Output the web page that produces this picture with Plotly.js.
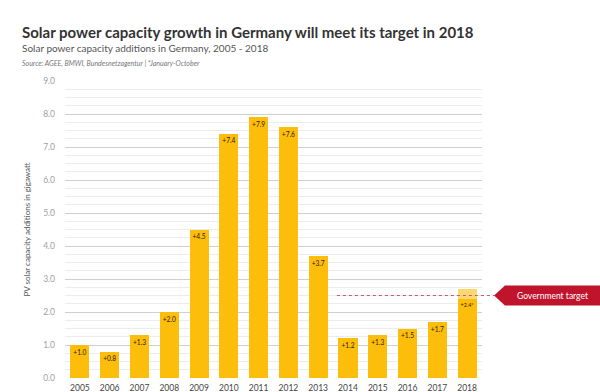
<!DOCTYPE html>
<html>
<head>
<meta charset="utf-8">
<script src="https://cdn.plot.ly/plotly-3.0.1.min.js"></script>
<style>html,body{margin:0;padding:0;background:#fff;}#chart{width:600px;height:392px;}</style>
</head>
<body>
<div id="chart"></div>
<script>
const years = ['2005','2006','2007','2008','2009','2010','2011','2012','2013','2014','2015','2016','2017','2018'];
const additions = [1.0, 0.8, 1.3, 2.0, 4.5, 7.4, 7.9, 7.6, 3.7, 1.2, 1.3, 1.5, 1.7, 2.4];
const labels = ['+1.0','+0.8','+1.3','+2.0','+4.5','+7.4','+7.9','+7.6','+3.7','+1.2','+1.3','+1.5','+1.7','+2.4*'];
const projectedYear = ['2018'];
const projectedExtra = [0.3];
const targetValue = 2.5;
const targetLabel = 'Government target';
const yTicks = [0,1,2,3,4,5,6,7,8,9];
const yTickText = ['0.0','1.0','2.0','3.0','4.0','5.0','6.0','7.0','8.0','9.0'];

const traces = [
  {
    type: 'bar', x: years, y: additions, text: labels,
    textposition: 'inside', insidetextanchor: 'end', textangle: 0,
    textfont: {size: 7, color: '#2e2200', family: 'Lato, sans-serif'},
    marker: {color: '#fcbd0b'}, width: 0.64, hoverinfo: 'skip'
  },
  {
    type: 'bar', x: projectedYear, y: projectedExtra,
    marker: {color: '#fdd870'}, width: 0.64, hoverinfo: 'skip'
  }
];

const layout = {
  width: 600, height: 392,
  margin: {l: 65, r: 118, t: 81, b: 14},
  paper_bgcolor: '#fff', plot_bgcolor: '#fff',
  showlegend: false, barmode: 'stack',
  font: {family: 'Lato, sans-serif', color: '#555'},
  xaxis: {
    type: 'category', range: [-0.5, 13.5], showgrid: false, zeroline: false,
    showline: false, ticks: '', tickfont: {size: 8.5, color: '#444'},
    ticklabelstandoff: 3, fixedrange: true, automargin: false
  },
  yaxis: {
    range: [0, 9], tickvals: yTicks, ticktext: yTickText,
    showgrid: true, gridcolor: '#cfcfcf', gridwidth: 1, zeroline: false,
    tickfont: {size: 8.5, color: '#a0a0a0'}, ticklabelstandoff: 9,
    minor: {dtick: 0.25, showgrid: true, gridcolor: '#ececec', gridwidth: 1},
    title: {text: 'PV solar capacity additions in gigawatt', font: {size: 8, color: '#555'}, standoff: 11},
    automargin: false, fixedrange: true
  },
  shapes: [
    {
      type: 'line', xref: 'paper', yref: 'y', x0: 0.652, x1: 1.03, y0: targetValue, y1: targetValue,
      line: {color: '#c65a6a', width: 1.2, dash: 'dot'}
    },
    {
      type: 'path', xref: 'paper', yref: 'y',
      path: 'M 1.029 ' + targetValue + ' L 1.055 ' + (targetValue - 0.3) + ' L 1.285 ' + (targetValue - 0.3) +
            ' L 1.285 ' + (targetValue + 0.3) + ' L 1.055 ' + (targetValue + 0.3) + ' Z',
      fillcolor: '#c0142c', line: {width: 0}
    }
  ],
  annotations: [
    {text: '<b>Solar power capacity growth in Germany will meet its target in 2018</b>', xref: 'paper', yref: 'paper',
     x: -0.108, y: 1.0, xanchor: 'left', yanchor: 'bottom', yshift: 38, showarrow: false,
     font: {size: 15, color: '#333', family: 'Lato, sans-serif'}},
    {text: 'Solar power capacity additions in Germany, 2005 - 2018', xref: 'paper', yref: 'paper',
     x: -0.108, y: 1.0, xanchor: 'left', yanchor: 'bottom', yshift: 25, showarrow: false,
     font: {size: 10, color: '#555'}},
    {text: '<i>Source: AGEE, BMWI, Bundesnetzagentur | *January-October</i>', xref: 'paper', yref: 'paper',
     x: -0.108, y: 1.0, xanchor: 'left', yanchor: 'bottom', yshift: 11, showarrow: false,
     font: {size: 7, color: '#777'}},
    {text: targetLabel, xref: 'paper', yref: 'y', x: 1.17, y: targetValue,
     xanchor: 'center', yanchor: 'middle', showarrow: false,
     font: {size: 8.5, color: '#fff'}}
  ]
};

Plotly.newPlot('chart', traces, layout, {displayModeBar: false, staticPlot: true});
</script>
</body>
</html>
